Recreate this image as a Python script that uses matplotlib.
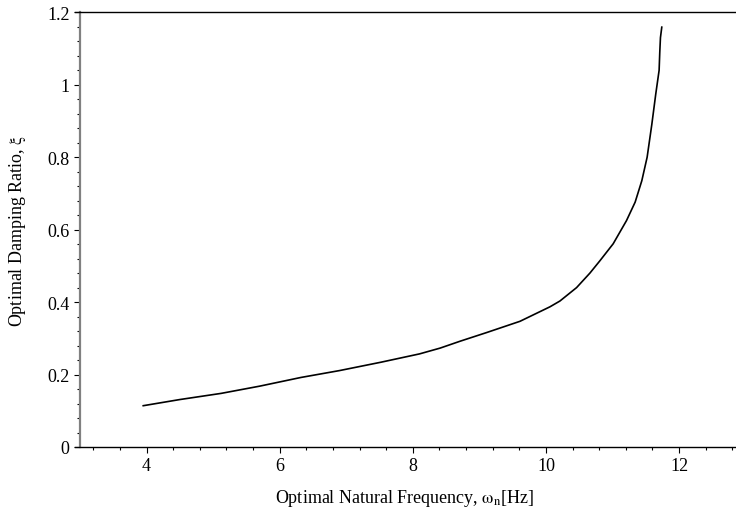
import matplotlib
matplotlib.use("Agg")
import matplotlib.pyplot as plt
from matplotlib.ticker import MultipleLocator, FuncFormatter

plt.rcParams['font.family'] = ['Liberation Serif', 'DejaVu Serif']
plt.rcParams['mathtext.fontset'] = 'stix'

# optimal natural frequency [Hz] vs optimal damping ratio
freq = [3.95, 4.5, 5.12, 5.7, 6.32, 6.9, 7.52, 8.1, 8.41, 8.71, 9.11,
        9.61, 10.06, 10.21, 10.46, 10.66, 10.81, 11.01, 11.21, 11.34,
        11.44, 11.52, 11.59, 11.65, 11.70, 11.71, 11.72, 11.74]
zeta = [0.114, 0.131, 0.148, 0.168, 0.192, 0.211, 0.234, 0.257, 0.273,
        0.292, 0.316, 0.347, 0.387, 0.403, 0.440, 0.480, 0.514, 0.561,
        0.625, 0.676, 0.735, 0.800, 0.890, 0.975, 1.040, 1.090, 1.130, 1.159]

fig = plt.figure(figsize=(7.36, 5.10), dpi=100)
ax = fig.add_axes([75 / 736, 62 / 510, 660 / 736, 434.7 / 510])

ax.plot(freq, zeta, color="black", lw=1.2)

ax.set_xlim(2.925, 12.84)
ax.set_ylim(0, 1.2)

ax.spines['right'].set_visible(False)
ax.spines['left'].set_position(('data', 3))
ax.spines['left'].set_color('#808080')
ax.spines['left'].set_linewidth(1.6)
ax.spines['top'].set_linewidth(1.0)
ax.spines['bottom'].set_linewidth(1.0)

ax.set_xticks([4, 6, 8, 10, 12])
ax.xaxis.set_minor_locator(MultipleLocator(0.4))
ax.yaxis.set_major_locator(MultipleLocator(0.2))
ax.yaxis.set_minor_locator(MultipleLocator(0.04))
ax.yaxis.set_major_formatter(FuncFormatter(lambda v, p: f"{v:g}"))

ax.tick_params(which='major', length=4.5, width=0.8, labelsize=13, pad=3, direction='out')
ax.tick_params(which='minor', length=2.2, width=0.8, direction='out')
ax.tick_params(top=False, right=False)

ax.set_xlabel(r"Optimal Natural Frequency, $\mathrm{\omega_n}$[Hz]", fontsize=13, labelpad=9)
ax.set_ylabel(r"Optimal Damping Ratio, $\mathrm{\xi}$", fontsize=13, labelpad=14)

fig.savefig("out.png", dpi=100)
